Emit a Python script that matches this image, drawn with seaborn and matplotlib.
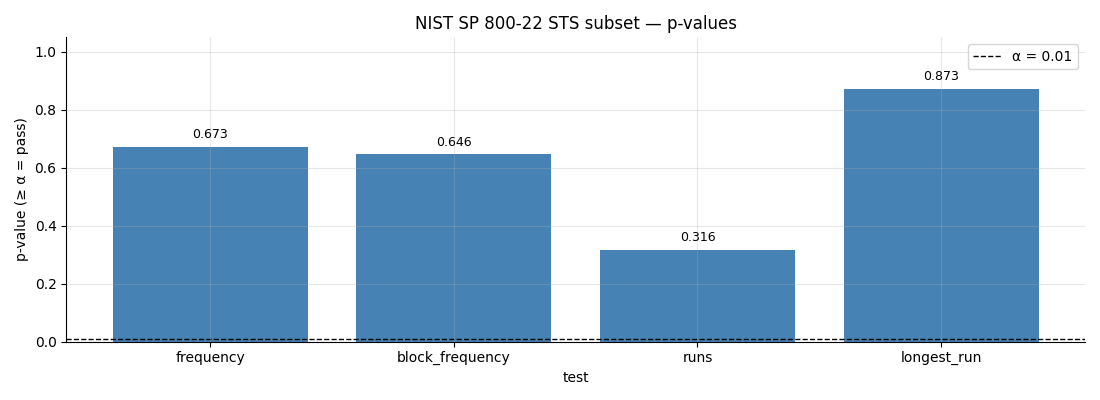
import pandas as pd
import matplotlib.pyplot as plt
import seaborn as sns

tests = ['frequency', 'block_frequency', 'runs', 'longest_run']
p_values = [0.673, 0.646, 0.316, 0.873]
alpha = 0.01

df = pd.DataFrame({'test': tests, 'p': p_values})

fig, ax = plt.subplots(figsize=(11, 4), dpi=100)
sns.barplot(data=df, x='test', y='p', color='steelblue', saturation=1,
            width=0.8, linewidth=0, ax=ax)
for i, v in enumerate(p_values):
    ax.text(i, v + 0.02, f'{v:.3f}', ha='center', va='bottom', fontsize=9)
ax.axhline(alpha, color='black', linestyle='--', linewidth=1, label=f'α = {alpha}')
ax.set_xlim(-0.59, 3.59)
ax.set_ylim(0, 1.05)
ax.set_axisbelow(False)
ax.grid(True, alpha=0.3)
ax.set_xlabel('test')
ax.set_ylabel('p-value (≥ α = pass)')
ax.set_title('NIST SP 800-22 STS subset — p-values')
ax.legend(loc='upper right')
sns.despine(ax=ax)
plt.tight_layout()
plt.savefig('out.png', dpi=100)
